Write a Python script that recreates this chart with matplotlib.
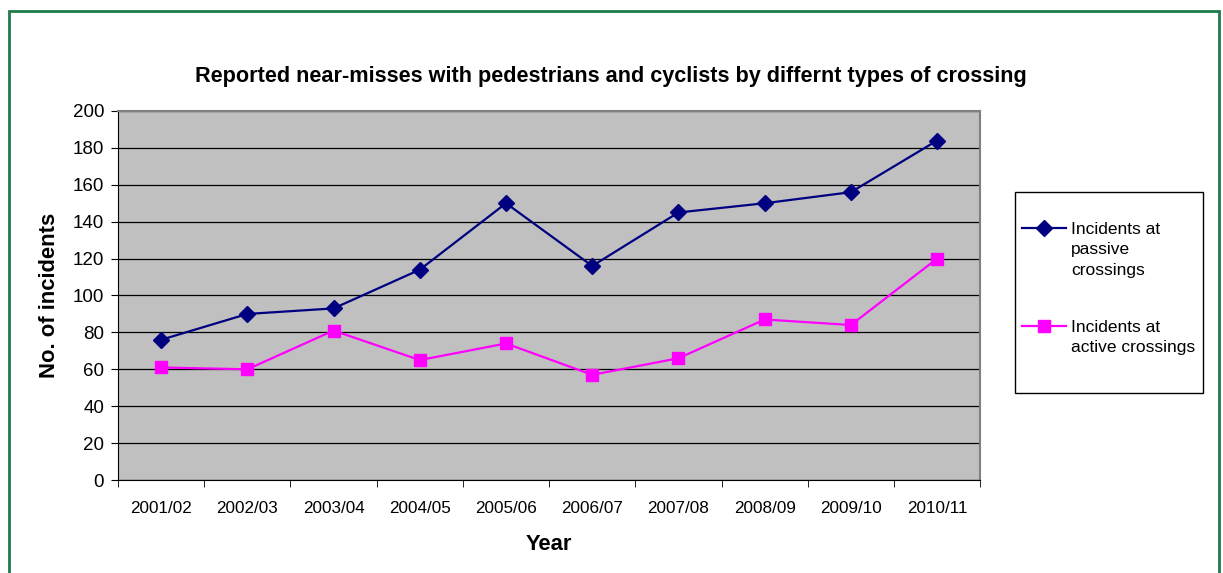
import matplotlib.pyplot as plt
from matplotlib.patches import Rectangle
from matplotlib.lines import Line2D

plt.rcParams['font.family'] = ['Liberation Sans', 'DejaVu Sans']

# Data
years = ["2001/02", "2002/03", "2003/04", "2004/05", "2005/06",
         "2006/07", "2007/08", "2008/09", "2009/10", "2010/11"]
passive = [76, 90, 93, 114, 150, 116, 145, 150, 156, 184]
active = [61, 60, 81, 65, 74, 57, 66, 87, 84, 120]

W, H = 1223, 573
fig = plt.figure(figsize=(W / 100, H / 100), dpi=100)
ax = fig.add_axes([0.0965, 0.1623, 0.705, 0.644])

# green frame around the chart
fig.patches.append(Rectangle((9 / W, -0.1), (1219 - 9) / W, 1 - 11 / H + 0.1,
                             transform=fig.transFigure, fill=False,
                             edgecolor="#1e7a4a", linewidth=2))
# legend box
fig.patches.append(Rectangle((1015 / W, 1 - 393 / H), (1203 - 1015) / W, (393 - 192) / H,
                             transform=fig.transFigure, fill=False,
                             edgecolor="black", linewidth=1))

series = [
    (passive, "Incidents at\npassive\ncrossings", "#000080", "D", 8),
    (active, "Incidents at\nactive crossings", "#ff00ff", "s", 9),
]

x = list(range(len(years)))
ax.set_facecolor("#c0c0c0")
for vals, label, color, marker, ms in series:
    ax.plot(x, vals, color=color, marker=marker, markersize=ms, linewidth=1.6)

ax.set_xlim(-0.5, len(years) - 0.5)
ax.set_ylim(0, 200)
ax.set_yticks(range(0, 201, 20))
ax.set_xticks(x)
ax.set_xticklabels(years)
ax.set_xticks([i + 0.5 for i in range(-1, len(years))], minor=True)
ax.tick_params(axis="x", which="major", length=0, pad=15, labelsize=12.3)
ax.tick_params(axis="x", which="minor", length=5, color="black")
ax.tick_params(axis="y", length=5, labelsize=13.5, pad=5)
ax.yaxis.grid(True, color="black", linewidth=0.9)
ax.set_axisbelow(True)
for s in ["top", "right"]:
    ax.spines[s].set_color("#808080")
    ax.spines[s].set_linewidth(1.5)
for s in ["left", "bottom"]:
    ax.spines[s].set_color("black")

fig.text(611 / W, 1 - 76 / H,
         "Reported near-misses with pedestrians and cyclists by differnt types of crossing",
         fontsize=15.6, fontweight="bold", ha="center", va="center")
ax.set_ylabel("No. of incidents", fontsize=15.8, fontweight="bold", labelpad=9)
ax.set_xlabel("Year", fontsize=15.8, fontweight="bold", labelpad=13)

# legend, handle lined up with the first line of each label (Excel style)
for (vals, label, color, marker, ms), ypx in zip(series, [228, 326]):
    yf = 1 - ypx / H
    fig.lines.append(Line2D([1022 / W, 1066 / W], [yf, yf], transform=fig.transFigure,
                            color=color, linewidth=1.6))
    fig.lines.append(Line2D([1044 / W], [yf], transform=fig.transFigure, color=color,
                            marker=marker, markersize=ms))
    fig.text(1071 / W, 1 - (ypx - 6) / H, label, fontsize=12.5, ha="left", va="top",
             linespacing=1.45)

fig.savefig("out.png", dpi=100)
